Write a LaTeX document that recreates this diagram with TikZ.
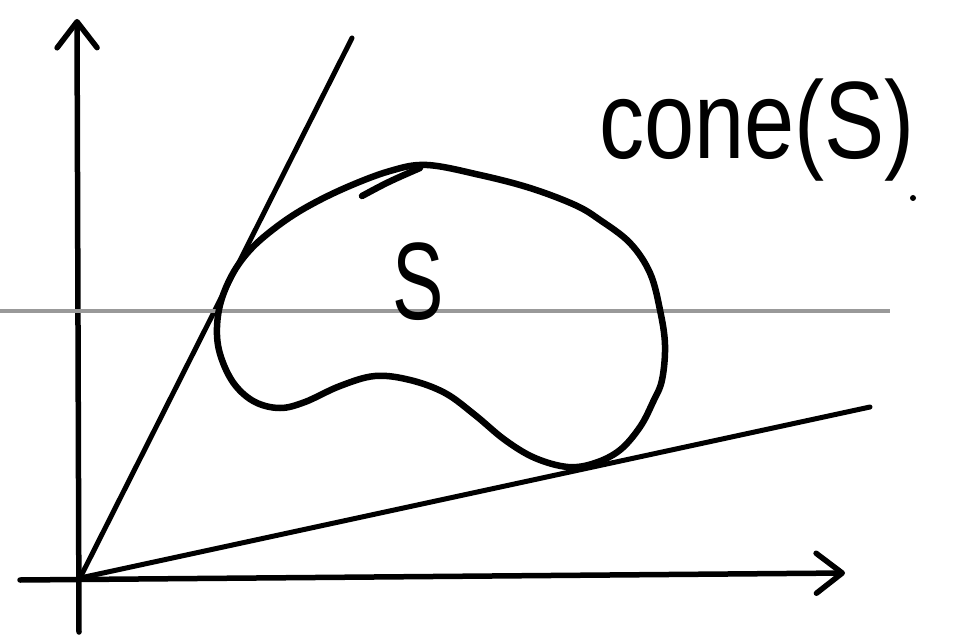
\documentclass[tikz,border=0pt]{standalone}
\usepackage{fontspec}
\setsansfont{Liberation Sans}
\usetikzlibrary{arrows.meta}

\begin{document}
\begin{tikzpicture}[
  x=1pt,y=-1pt,
  >={Straight Barb[length=26pt,width=40pt,round]},
  axis/.style={->, line width=5.5pt, line cap=round},
  ray/.style={line width=5pt, line cap=round},
  level/.style={draw=black!40, line width=3.5pt},
  blob/.style={line width=6.5pt, line join=round},
  hand/.style={font=\sffamily\fontsize{110}{110}\selectfont, inner sep=0pt}
]
\useasboundingbox (0,0) rectangle (960,636);

% axes and origin
\coordinate (O) at (80,578);
\coordinate (xstart) at (20,580);
\coordinate (xtip) at (845,573);
\coordinate (ybot) at (79,632);
\coordinate (ytip) at (77,19);
\draw[axis] (xstart) -- (xtip);
\draw[axis] (ybot) -- (ytip);

% the two rays bounding the cone
\coordinate (rayup) at (352,38);
\coordinate (raylow) at (870,407);
\draw[ray] (O) -- (rayup);
\draw[ray] (O) -- (raylow);

% grey level line
\coordinate (lvlL) at (0,311);
\coordinate (lvlR) at (890,311);
\draw[level] (lvlL) -- (lvlR);

% the set S
\draw[blob] plot[smooth cycle, tension=0.6] coordinates {
  (427,165) (480,175) (530,188) (575,205) (600,220) (630,243) (650,273)
  (660,310) (665,345) (662,380) (653,402) (640,427) (620,450) (595,463)
  (568,467) (535,458) (505,440) (475,415) (445,393) (410,380) (375,376)
  (340,386) (305,402) (280,408) (255,402) (235,385) (222,360) (217,335)
  (220,305) (232,275) (250,250) (275,228) (305,208) (345,188) (390,171)};
\draw[blob, line cap=round] (362,196) .. controls (388,182) .. (420,168);

% labels
\node[hand, xscale=0.7] (setlabel) at (418,282) {S};
\node[hand, xscale=0.82] (conelabel) at (757,130) {cone(S)};
\fill (913,198) circle (3);

\end{tikzpicture}
\end{document}
